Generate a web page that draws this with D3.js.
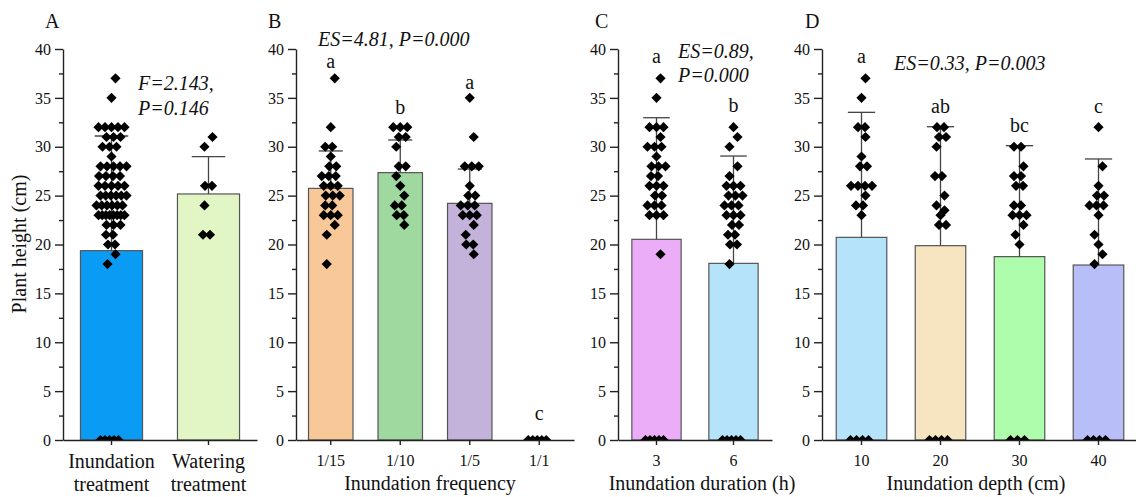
<!DOCTYPE html>
<html>
<head>
<meta charset="utf-8">
<script src="https://cdn.jsdelivr.net/npm/d3@7"></script>
<style>
  body { margin: 0; background: #fff; }
  svg { display: block; }
  svg text { font-family: "Liberation Serif", "Tinos", "Times New Roman", "DejaVu Serif", serif !important; fill: #111; }
</style>
</head>
<body>
<svg id="chart" width="1136" height="497"></svg>
<script>
// ---- data ----
const yTicks = [0, 5, 10, 15, 20, 25, 30, 35, 40];
const yMinorTicks = [2.5, 7.5, 12.5, 17.5, 22.5, 27.5, 32.5, 37.5];

// A: treatment
const catsA = ["Inundation treatment", "Watering treatment"];
const meansA = [19.37, 25.17];
const sdA = [11.73, 3.81];
const ptsA = [
  [37, 35, 32, 32, 32, 32, 32, 31, 31, 31, 30, 30, 30, 29, 28, 28, 28, 28, 28, 27, 27, 27, 27,
   26, 26, 26, 26, 26, 25, 25, 25, 25, 25, 25, 24, 24, 24, 24, 24, 24, 23, 23, 23, 23, 23, 23,
   23, 23, 22, 22, 22, 21, 21, 20, 20, 19, 18, 0, 0, 0, 0, 0],
  [31, 30, 26, 26, 24, 21, 21]
];

// B: inundation frequency
const catsB = ["1/15", "1/10", "1/5", "1/1"];
const meansB = [25.74, 27.35, 24.21, 0];
const sdB = [3.83, 3.34, 3.51, 0];
const lettersB = ["a", "b", "a", "c"];
const letterYB = [38.1, 33.3, 35.9, 2.0];
const ptsB = [
  [37, 32, 30, 30, 29, 28, 28, 27, 27, 27, 26, 26, 26, 25, 25, 25, 24, 24, 23, 23, 23, 22, 21, 18],
  [32, 32, 32, 31, 31, 30, 28, 28, 27, 26, 25, 24, 24, 23, 23, 22],
  [35, 31, 28, 28, 28, 26, 25, 25, 24, 24, 24, 23, 23, 23, 22, 21, 20, 20, 19],
  [0, 0, 0, 0, 0]
];

// C: inundation duration
const catsC = ["3", "6"];
const meansC = [20.53, 18.07];
const sdC = [12.44, 10.98];
const lettersC = ["a", "b"];
const letterYC = [38.6, 33.6];
const ptsC = [
  [37, 35, 32, 32, 32, 31, 30, 30, 30, 29, 28, 28, 28, 27, 27, 26, 26, 26, 25, 25, 24, 24, 24,
   23, 23, 23, 19, 0, 0, 0, 0, 0],
  [32, 31, 30, 28, 27, 26, 26, 26, 25, 25, 25, 24, 24, 24, 23, 23, 23, 22, 22, 21, 21, 20, 20,
   18, 0, 0, 0, 0, 0]
];

// D: inundation depth
const catsD = ["10", "20", "30", "40"];
const meansD = [20.73, 19.88, 18.76, 17.90];
const sdD = [12.79, 12.17, 11.35, 10.85];
const lettersD = ["a", "ab", "bc", "c"];
const letterYD = [38.6, 33.5, 31.5, 33.5];
const ptsD = [
  [37, 35, 32, 32, 31, 29, 28, 28, 26, 26, 26, 26, 25, 24, 24, 23, 0, 0, 0, 0],
  [32, 32, 31, 31, 30, 27, 27, 25, 24, 23.5, 23, 22, 22, 0, 0, 0, 0],
  [30, 30, 28, 27, 27, 26, 26, 24, 24, 23, 23, 23, 22, 21, 20, 0, 0, 0],
  [32, 28, 26, 25, 25, 24, 24, 24, 23, 21, 20, 19, 18, 0, 0, 0, 0]
];

// ---- layout / style ----
const colorsA = ["#0a9bf5", "#e1f6c4"];
const colorsB = ["#f9c898", "#a0d9a0", "#c3b2d9"];
const colorsC = ["#ebadf7", "#b5e3fa"];
const colorsD = ["#b5e3fa", "#f7e4c1", "#adfdad", "#b8bff8"];
const SERIF = "'Liberation Serif', Tinos, 'Times New Roman', 'DejaVu Serif', serif";

const svg = d3.select("#chart");
const y = d3.scaleLinear().domain([0, 40]).range([440, 49]);

const panels = [
  { key: "A", x0: 63, x1: 257, cats: catsA, means: meansA, sd: sdA, pts: ptsA, colors: colorsA,
    labelX: 45, twoLine: true, stats: [{ t: "F=2.143,", x: 138, y: 90 }, { t: "P=0.146", x: 138, y: 115 }] },
  { key: "B", x0: 296, x1: 574, cats: catsB, means: meansB, sd: sdB, pts: ptsB, colors: colorsB,
    letters: lettersB, letterY: letterYB, labelX: 268, title: "Inundation frequency", titleX: 430,
    stats: [{ t: "ES=4.81, P=0.000", x: 318, y: 46 }] },
  { key: "C", x0: 618, x1: 772, cats: catsC, means: meansC, sd: sdC, pts: ptsC, colors: colorsC,
    letters: lettersC, letterY: letterYC, labelX: 595, title: "Inundation duration (h)", titleX: 702,
    stats: [{ t: "ES=0.89,", x: 678, y: 58 }, { t: "P=0.000", x: 678, y: 82 }] },
  { key: "D", x0: 822, x1: 1138, cats: catsD, means: meansD, sd: sdD, pts: ptsD, colors: colorsD,
    letters: lettersD, letterY: letterYD, labelX: 805, title: "Inundation depth (cm)", titleX: 976,
    stats: [{ t: "ES=0.33, P=0.003", x: 894, y: 70 }] }
];

const diamond = d3.symbol().type(d3.symbolSquare).size(52);

// spread equal values sideways, like the jittered points in the figure
function jitter(values) {
  const counts = d3.rollup(values, v => v.length, d => d);
  const seen = new Map();
  return values.map(v => {
    const n = counts.get(v);
    const k = seen.get(v) || 0;
    seen.set(v, k + 1);
    const step = n > 1 ? Math.min(7, (v === 0 ? 18 : 26) / (n - 1)) : 0;
    const wobble = ((Math.round(v * 2) % 3) - 1) * (n === 1 ? 4 : 2);
    return { v, dx: (k - (n - 1) / 2) * step + wobble };
  });
}

panels.forEach(p => {
  const g = svg.append("g");
  const x = d3.scaleBand().domain(p.cats).range([p.x0, p.x1]).paddingInner(0.36).paddingOuter(0.18);
  const bw = x.bandwidth();
  const cx = d => x(d) + bw / 2;

  g.append("clipPath").attr("id", "clip" + p.key)
    .append("rect").attr("x", p.x0).attr("y", 0).attr("width", p.x1 - p.x0).attr("height", y(0));

  // bars
  g.selectAll("rect.bar")
    .data(p.cats.map((c, i) => ({ c, m: p.means[i], i })).filter(d => d.m > 0))
    .join("rect")
    .attr("class", "bar")
    .attr("x", d => x(d.c))
    .attr("y", d => y(d.m))
    .attr("width", bw)
    .attr("height", d => y(0) - y(d.m))
    .attr("fill", d => p.colors[d.i])
    .attr("stroke", "#555")
    .attr("stroke-width", 1.2);

  // error bars (upper only)
  const eb = g.selectAll("g.err")
    .data(p.cats.map((c, i) => ({ c, m: p.means[i], s: p.sd[i] })).filter(d => d.s > 0))
    .join("g").attr("class", "err")
    .attr("stroke", "#444").attr("stroke-width", 1.3);
  eb.append("line")
    .attr("x1", d => cx(d.c)).attr("x2", d => cx(d.c))
    .attr("y1", d => y(d.m)).attr("y2", d => y(d.m + d.s));
  eb.append("line")
    .attr("x1", d => cx(d.c) - bw * 0.27).attr("x2", d => cx(d.c) + bw * 0.27)
    .attr("y1", d => y(d.m + d.s)).attr("y2", d => y(d.m + d.s));

  // points
  const pg = g.append("g").attr("clip-path", "url(#clip" + p.key + ")");
  p.cats.forEach((c, i) => {
    pg.selectAll(null)
      .data(jitter(p.pts[i]))
      .join("path")
      .attr("d", diamond)
      .attr("transform", d => `translate(${cx(c) + d.dx},${y(d.v)}) rotate(45)`)
      .attr("fill", "#000");
  });

  // axes
  const yAxis = g.append("g").attr("transform", `translate(${p.x0},0)`)
    .call(d3.axisLeft(y).tickValues(yTicks).tickSize(8).tickSizeOuter(0).tickPadding(4));
  g.append("g").attr("transform", `translate(${p.x0},0)`)
    .call(d3.axisLeft(y).tickValues(yMinorTicks).tickSize(4).tickSizeOuter(0).tickFormat(""))
    .select(".domain").remove();
  const xAxis = g.append("g").attr("transform", `translate(0,${y(0)})`)
    .call(d3.axisBottom(x).tickSize(5).tickSizeOuter(0).tickPadding(10));

  [yAxis, xAxis].forEach(a => {
    a.attr("font-family", SERIF);
    a.selectAll("text").attr("font-size", 16).attr("fill", "#111");
    a.selectAll("line, path").attr("stroke", "#222").attr("stroke-width", 1.4);
  });
  g.selectAll(".tick line").attr("stroke", "#222").attr("stroke-width", 1.4);

  if (p.twoLine) {
    xAxis.selectAll(".tick text").each(function (d) {
      const t = d3.select(this).text("").attr("font-size", 20).attr("dy", null).attr("y", 28);
      d.split(" ").forEach((w, k) => t.append("tspan").attr("x", 0).attr("y", 28 + k * 23).text(w));
    });
  }

  // significance letters
  if (p.letters) {
    g.selectAll("text.sig")
      .data(p.cats.map((c, i) => ({ c, l: p.letters[i], v: p.letterY[i] })))
      .join("text").attr("class", "sig")
      .attr("x", d => cx(d.c)).attr("y", d => y(d.v))
      .attr("text-anchor", "middle").attr("font-size", 20).attr("font-family", SERIF)
      .text(d => d.l);
  }

  // statistics
  g.selectAll("text.stat").data(p.stats).join("text").attr("class", "stat")
    .attr("x", d => d.x).attr("y", d => d.y)
    .attr("font-size", 20).attr("font-style", "italic").attr("font-family", SERIF).attr("fill", "#222")
    .text(d => d.t);

  // panel letter
  g.append("text").attr("x", p.labelX).attr("y", 28).attr("font-size", 20).attr("font-family", SERIF).text(p.key);

  // axis title
  if (p.title) {
    g.append("text").attr("x", p.titleX).attr("y", 490).attr("text-anchor", "middle")
      .attr("font-size", 20).attr("font-family", SERIF).text(p.title);
  }
});

svg.append("text")
  .attr("transform", "translate(26,244) rotate(-90)")
  .attr("text-anchor", "middle").attr("font-size", 20).attr("font-family", SERIF)
  .text("Plant height (cm)");
</script>
</body>
</html>
